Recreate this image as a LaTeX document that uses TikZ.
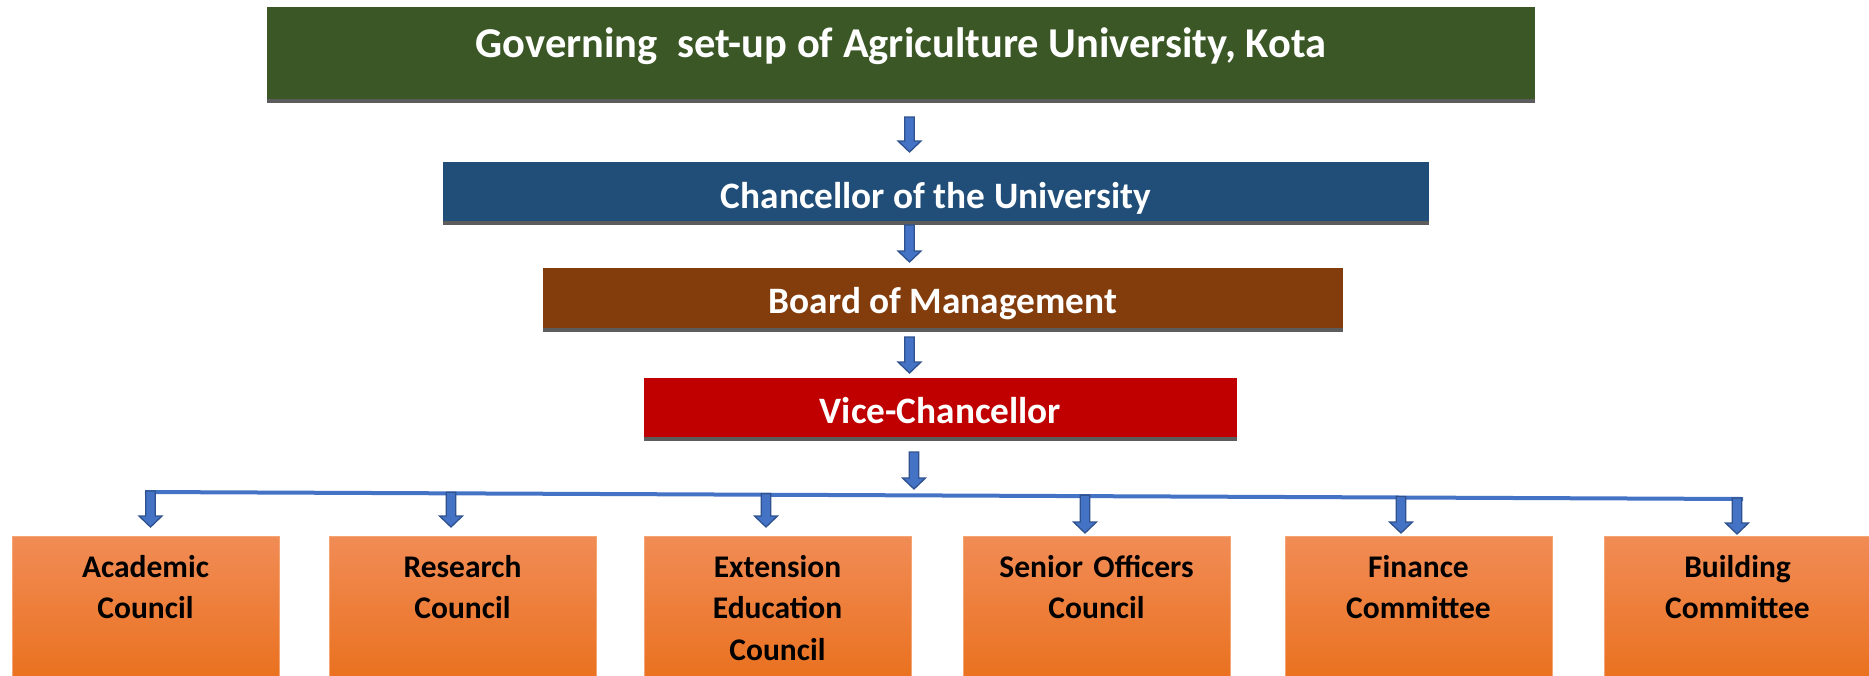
\documentclass[tikz,border=0pt]{standalone}
\usepackage{fontspec}
\setmainfont{Carlito}
\definecolor{govgreen}{RGB}{58,87,37}
\definecolor{chanblue}{RGB}{32,78,121}
\definecolor{boardbrown}{RGB}{131,60,12}
\definecolor{vcred}{RGB}{192,0,0}
\definecolor{shadowgray}{RGB}{92,92,92}
\definecolor{arrowfill}{RGB}{68,114,196}
\definecolor{arrowline}{RGB}{47,82,143}
\definecolor{orangetop}{RGB}{241,140,86}
\definecolor{orangemid}{RGB}{244,125,45}
\definecolor{orangebot}{RGB}{233,112,28}
\definecolor{orangeedge}{RGB}{244,165,115}
\tikzset{
  topbox/.style={rectangle, inner sep=0pt, outer sep=0pt},
  toptext/.style={anchor=base, inner sep=0pt, text=white, font=\bfseries\fontsize{37.3}{44}\selectfont},
  bottombox/.style={rectangle, inner sep=0pt, outer sep=0pt, minimum width=267pt, minimum height=150pt,
    top color=orangetop, middle color=orangemid, bottom color=orangebot, draw=orangeedge, line width=0.8pt},
  bottomtext/.style={anchor=base, inner sep=0pt, text width=262pt, align=center, text=black,
    font=\bfseries\fontsize{31.5}{41.5}\selectfont},
  busline/.style={draw=arrowfill, line width=4pt},
  pics/blockdown/.style={code={
    \path[fill=arrowfill, draw=arrowline, line width=1.3pt, line join=miter]
      (-4.8,0) -- (4.8,0) -- (4.8,#1-11) -- (11.5,#1-11) -- (0,#1) -- (-11.5,#1-11) -- (-4.8,#1-11) -- cycle;
  }}
}
\begin{document}
\begin{tikzpicture}[x=1pt,y=-1pt]
\useasboundingbox[fill=white] (0,0) rectangle (1869,675);

% top chain of boxes
\node[topbox, fill=govgreen, minimum width=1268pt, minimum height=92pt] (gov) at (901,53) {};
\fill[shadowgray] (gov.south west) rectangle ++(1268,4);
\node[toptext, font=\bfseries\fontsize{42.5}{50}\selectfont] (govt) at (901,57) {Governing\ \ set-up of Agriculture University, Kota};

\node[topbox, fill=chanblue, minimum width=986pt, minimum height=59pt] (chan) at (936,191.5) {};
\fill[shadowgray] (chan.south west) rectangle ++(986,3.5);
\node[toptext] (chant) at (936,208) {Chancellor of the University};

\node[topbox, fill=boardbrown, minimum width=800pt, minimum height=60pt] (board) at (943,298) {};
\fill[shadowgray] (board.south west) rectangle ++(800,3.5);
\node[toptext] (boardt) at (943,313) {Board of Management};

\node[topbox, fill=vcred, minimum width=593pt, minimum height=59pt] (vc) at (940.5,407.5) {};
\fill[shadowgray] (vc.south west) rectangle ++(593,4);
\node[toptext] (vct) at (940.5,423) {Vice-Chancellor};

% block arrows between top boxes
\pic at (909.5,117) {blockdown=35};
\pic at (909.5,225) {blockdown=37};
\pic at (909.5,337) {blockdown=36};
\pic at (914,452) {blockdown=37};

% bus line
\coordinate (busl) at (145,492);
\coordinate (busr) at (1743,499);
\draw[busline] (busl) -- (busr);

% bottom boxes
\node[bottombox] (ac) at (145.5,611) {};
\node[bottombox] (rc) at (462.5,611) {};
\node[bottombox] (eec) at (777.5,611) {};
\node[bottombox] (soc) at (1096.5,611) {};
\node[bottombox] (fc) at (1418.5,611) {};
\node[bottombox] (bc) at (1737.5,611) {};

\node[bottomtext] (act) at (145.5,577) {Academic\\Council};
\node[bottomtext] (rct) at (462.5,577) {Research\\Council};
\node[bottomtext] (eect) at (777.5,577) {Extension\\Education\\Council};
\node[bottomtext] (soct) at (1096.5,577) {Senior Officers\\Council};
\node[bottomtext] (fct) at (1418.5,577) {Finance\\Committee};
\node[bottomtext] (bct) at (1737.5,577) {Building\\Committee};

% small arrows from bus to boxes
\pic at (150.5,491) {blockdown=36};
\pic at (451,492.3) {blockdown=34.7};
\pic at (766,493.7) {blockdown=33.3};
\pic at (1085,495.1) {blockdown=37.9};
\pic at (1401,496.5) {blockdown=36.5};
\pic at (1737,498) {blockdown=36};
\end{tikzpicture}
\end{document}
